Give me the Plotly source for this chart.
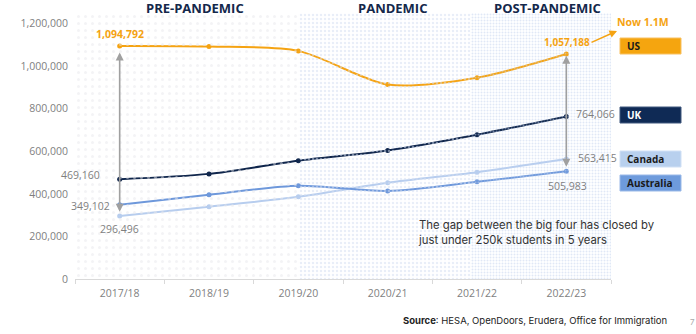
import plotly.graph_objects as go

years = ["2017/18", "2018/19", "2019/20", "2020/21", "2021/22", "2022/23"]
us = [1094792, 1092000, 1072000, 914000, 946000, 1057188]
uk = [469160, 494000, 556000, 604000, 678000, 764066]
canada = [296496, 340000, 386000, 452000, 502000, 563415]
australia = [349102, 396000, 438000, 414000, 457000, 505983]

series = [
    ("US", us, "#F5A312"),
    ("UK", uk, "#10264C"),
    ("Canada", canada, "#B7CDEE"),
    ("Australia", australia, "#6E98DB"),
]

W, H = 696, 334
ML, MR, MT, MB = 75, 85, 13, 55
YMAX = 1250000
PW = W - ML - MR
PH = H - MT - MB


def px(x):
    return (x - ML) / PW


def py(y):
    return (H - MB - y) / PH


fig = go.Figure()

# background period shading (numeric overlay axis)
regions = [
    (-0.5, 2.0, "#e8e8ec", 7, 0.15),
    (2.0, 3.93, "#d2dcf0", 4, 0.3),
    (3.93, 5.5, "#c2d1ee", 3, 0.35),
]
for x0, x1, col, sz, sol in regions:
    fig.add_trace(go.Scatter(
        x=[x0, x1, x1, x0, x0], y=[0, 0, YMAX, YMAX, 0], xaxis="x2", yaxis="y",
        mode="lines", line=dict(width=0), fill="toself", fillcolor="rgba(0,0,0,0)",
        fillpattern=dict(shape=".", fgcolor=col, bgcolor="rgba(255,255,255,0)", size=sz, solidity=sol),
        hoverinfo="skip", showlegend=False))

for name, vals, col in series:
    fig.add_trace(go.Scatter(
        x=years, y=vals, mode="lines+markers", name=name,
        line=dict(color=col, width=2, shape="spline", smoothing=0.8),
        marker=dict(color=col, size=5), showlegend=False))

grey = "#7f7f7f"
ann = []
# gap arrows
for xi, y0, y1 in [(0, canada[0] + 12000, us[0] - 30000), (5, australia[-1] + 15000, us[-1] - 8000)]:
    ann.append(dict(x=xi, y=y1, xref="x2", yref="y", ax=xi, ay=y0, axref="x2", ayref="y",
                    text="", showarrow=True, arrowhead=2, arrowside="end+start",
                    arrowsize=1, arrowwidth=1.6, arrowcolor="#a0a0a0"))

orange = "#F5A312"
ann.append(dict(x=years[0], y=us[0], text="<b>%s</b>" % f"{us[0]:,}", showarrow=False,
                yshift=12, font=dict(color=orange, size=10.5, family="Open Sans")))
ann.append(dict(x=years[-1], y=us[-1], text="<b>%s</b>" % f"{us[-1]:,}", showarrow=False,
                yshift=12, xshift=1, font=dict(color=orange, size=10, family="Open Sans")))

lab_font = dict(color=grey, size=10.5, family="Open Sans")
ann.append(dict(x=years[0], y=uk[0], text=f"{uk[0]:,}", showarrow=False, xanchor="right",
                xshift=-18, yshift=4, font=lab_font))
ann.append(dict(x=years[0], y=australia[0], text=f"{australia[0]:,}", showarrow=False,
                xanchor="right", xshift=-8, yshift=-1, font=lab_font))
ann.append(dict(x=years[0], y=canada[0], text=f"{canada[0]:,}", showarrow=False,
                yshift=-13, font=lab_font))
ann.append(dict(x=years[-1], y=uk[-1], text=f"{uk[-1]:,}", showarrow=False, xanchor="left",
                xshift=8, yshift=2, font=lab_font))
ann.append(dict(x=years[-1], y=canada[-1], text=f"{canada[-1]:,}", showarrow=False,
                xanchor="left", xshift=10, yshift=1, font=lab_font))
ann.append(dict(x=years[-1], y=australia[-1], text=f"{australia[-1]:,}", showarrow=False,
                yshift=-15, xshift=1, font=lab_font))


def pann(x, y, text, font, xanchor="center", **kw):
    d = dict(x=px(x), y=py(y), xref="paper", yref="paper", text=text, showarrow=False,
             xanchor=xanchor, yanchor="middle", font=font)
    d.update(kw)
    return d


# Now 1.1M
ann.append(dict(x=px(617), y=py(31), xref="paper", yref="paper", ax=-27, ay=12,
                text="", showarrow=True, arrowhead=2, arrowsize=1, arrowwidth=1.5,
                arrowcolor=orange))
ann.append(pann(643, 22, "<b>Now 1.1M</b>", dict(color=orange, size=10.5, family="Open Sans")))

# period titles
navy = "#14284B"
for t, cx in [("PRE-PANDEMIC", 195), ("PANDEMIC", 392), ("POST-PANDEMIC", 547)]:
    ann.append(pann(cx, 8, "<b>%s</b>" % t, dict(color=navy, size=13, family="Open Sans")))

# legend boxes
shapes = []
boxes = [("US", 38, 54, "#F5A50F", "#F8C060", "#1a1a1a"),
         ("UK", 107, 123, "#0F2A55", "#40587e", "#ffffff"),
         ("Canada", 151, 167, "#B8D0EE", "#d0e0f5", "#1a1a1a"),
         ("Australia", 175, 191, "#6E9BDC", "#9ab9e8", "#1a1a1a")]
for lab, y0, y1, fc, lc, tc in boxes:
    shapes.append(dict(type="rect", xref="paper", yref="paper", x0=px(620), x1=px(681),
                       y0=py(y1), y1=py(y0), fillcolor=fc, line=dict(color=lc, width=1)))
    ann.append(pann(625, (y0 + y1) / 2, "<b>%s</b>" % lab,
                    dict(color=tc, size=10, family="Open Sans"), xanchor="left"))

ann.append(pann(416, 232,
                "The gap between the big four has closed by<br>just under 250k students in 5 years",
                dict(color="#333333", size=11.3, family="Inter"), xanchor="left", align="left"))
ann.append(pann(535, 320, "<b>Source</b>: HESA, OpenDoors, Erudera, Office for Immigration",
                dict(color="#222222", size=9.5, family="Inter")))
ann.append(pann(692, 322, "7", dict(color="#aaaaaa", size=8, family="Inter")))

fig.update_layout(
    width=W, height=H, margin=dict(l=ML, r=MR, t=MT, b=MB),
    paper_bgcolor="white", plot_bgcolor="white",
    xaxis=dict(type="category", categoryorder="array", categoryarray=years,
               range=[-0.5, 5.5], tickson="boundaries", ticks="outside", ticklen=4,
               tickcolor="#d9d9d9", showline=True, linecolor="#d9d9d9", linewidth=1,
               showgrid=False, tickfont=dict(color="#7f7f7f", size=10.5, family="Open Sans"),
               ticklabelstandoff=4, fixedrange=True),
    xaxis2=dict(overlaying="x", range=[-0.5, 5.5], visible=False, fixedrange=True),
    yaxis=dict(range=[0, YMAX], tickvals=[0, 200000, 400000, 600000, 800000, 1000000, 1200000],
               tickformat=",d", showgrid=False, zeroline=False, showline=False,
               ticklabelstandoff=6,
               tickfont=dict(color="#7f7f7f", size=10.5, family="Open Sans"), fixedrange=True),
    annotations=ann, shapes=shapes, showlegend=False,
)

fig.write_html("out.html")
